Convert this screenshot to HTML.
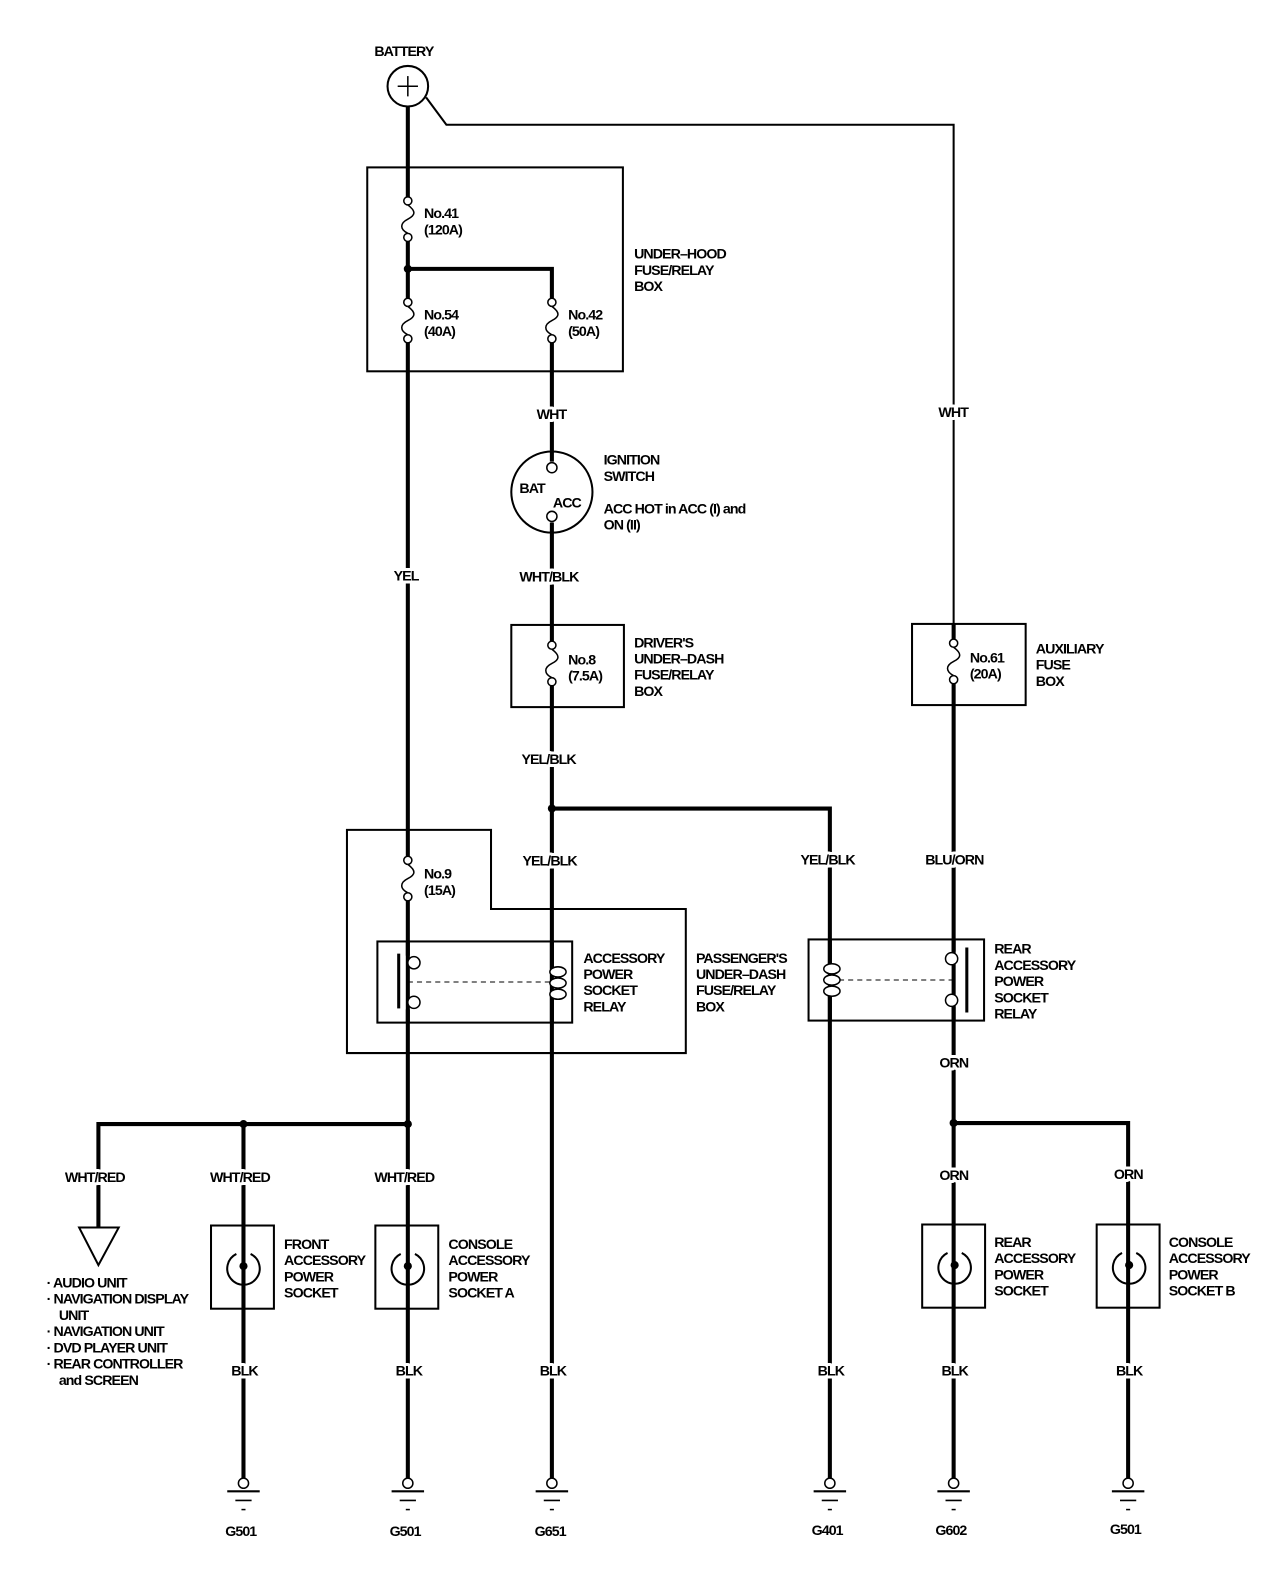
<!DOCTYPE html>
<html><head><meta charset="utf-8"><style>
html,body{margin:0;padding:0;background:#fff;width:1280px;height:1590px;overflow:hidden}
svg{display:block;position:absolute;left:0;top:0}
text{font-family:"Liberation Sans",sans-serif;font-weight:bold;font-size:14px;letter-spacing:-0.9px;fill:#000}
text.lb{stroke:#fff;stroke-width:6px;paint-order:stroke;stroke-linejoin:round}
.w{stroke:#000;stroke-width:4;fill:none}
.t{stroke:#000;stroke-width:2;fill:none}
.f{stroke:#000;stroke-width:1.5;fill:#fff}
</style></head><body>
<svg width="1280" height="1590" viewBox="0 0 1280 1590" xmlns="http://www.w3.org/2000/svg">
<g transform="scale(1.0145)">
<!-- battery -->
<text x="369" y="55">BATTERY</text>
<circle cx="402" cy="85" r="20" class="t"/>
<line x1="392" y1="85" x2="412" y2="85" stroke="#000" stroke-width="1.5"/>
<line x1="402" y1="75" x2="402" y2="95" stroke="#000" stroke-width="1.5"/>
<polyline class="t" points="420,96 440,123 940,123 940,615"/>
<!-- main wires -->
<line class="w" x1="402" y1="105" x2="402" y2="1108"/>
<polyline class="w" points="402,265 544,265 544,455"/>
<line class="w" x1="544" y1="515" x2="544" y2="1462"/>
<polyline class="w" points="544,797 818,797 818,1462"/>
<line class="w" x1="940" y1="615" x2="940" y2="1462"/>
<polyline class="w" points="940,1107 1112,1107 1112,1462"/>
<polyline class="w" points="402,1108 97,1108 97,1210"/>
<line class="w" x1="240" y1="1108" x2="240" y2="1462"/>
<line class="w" x1="402" y1="1108" x2="402" y2="1462"/>
<circle cx="402" cy="265" r="4"/><circle cx="544" cy="797" r="4"/><circle cx="402" cy="1108" r="4"/><circle cx="240" cy="1108" r="4"/><circle cx="940" cy="1107" r="4"/>
<!-- under hood box -->
<rect x="362" y="165" width="252" height="201" class="t"/>
<text x="625" y="255">UNDER–HOOD</text><text x="625" y="271">FUSE/RELAY</text><text x="625" y="287">BOX</text>
<!-- fuses -->
<g id="fz">
<rect x="396" y="200" width="12" height="34" fill="#fff"/>
<circle cx="402" cy="198" r="4" class="f"/><circle cx="402" cy="234" r="4" class="f"/>
<path d="M402 202 C410 208,410 212,402 216 C394 220,394 226,402 230" class="f" fill="none"/>
</g>
<use href="#fz" y="100"/>
<use href="#fz" x="142" y="100"/>
<use href="#fz" x="142" y="438"/>
<use href="#fz" y="650"/>
<use href="#fz" x="538" y="436"/>
<text x="418" y="215">No.41</text><text x="418" y="231">(120A)</text>
<text x="418" y="315">No.54</text><text x="418" y="331">(40A)</text>
<text x="560" y="315">No.42</text><text x="560" y="331">(50A)</text>
<text class="lb" x="529" y="413">WHT</text>
<text class="lb" x="925" y="411">WHT</text>
<!-- ignition -->
<circle cx="544" cy="485" r="40" class="t"/>
<circle cx="544" cy="461" r="5" class="f"/><circle cx="544" cy="509" r="5" class="f"/>
<text x="512" y="486">BAT</text><text x="545" y="500">ACC</text>
<text x="595" y="458">IGNITION</text><text x="595" y="474">SWITCH</text>
<text x="595" y="506">ACC HOT in ACC (I) and</text><text x="595" y="522">ON (II)</text>
<text class="lb" x="388" y="572">YEL</text>
<text class="lb" x="512" y="573">WHT/BLK</text>
<!-- driver's box -->
<rect x="504" y="616" width="111" height="81" class="t"/>
<text x="560" y="655">No.8</text><text x="560" y="671">(7.5A)</text>
<text x="625" y="638">DRIVER'S</text><text x="625" y="654">UNDER–DASH</text><text x="625" y="670">FUSE/RELAY</text><text x="625" y="686">BOX</text>
<!-- aux -->
<rect x="899" y="615" width="112" height="80" class="t"/>
<text x="956" y="653">No.61</text><text x="956" y="669">(20A)</text>
<text x="1021" y="644">AUXILIARY</text><text x="1021" y="660">FUSE</text><text x="1021" y="676">BOX</text>
<text class="lb" x="514" y="753">YEL/BLK</text>
<!-- passenger box -->
<polygon points="342,818 484,818 484,896 676,896 676,1038 342,1038" class="t"/>
<text x="418" y="866">No.9</text><text x="418" y="882">(15A)</text>
<text class="lb" x="515" y="853">YEL/BLK</text>
<text class="lb" x="789" y="852">YEL/BLK</text>
<text class="lb" x="912" y="852">BLU/ORN</text>
<!-- relay 1 -->
<rect x="372" y="928" width="192" height="80" class="t" fill="#fff"/>
<line class="w" x1="402" y1="928" x2="402" y2="942"/><line class="w" x1="402" y1="995" x2="402" y2="1008"/>
<line class="w" x1="544" y1="928" x2="544" y2="955"/><line class="w" x1="544" y1="982" x2="544" y2="1008"/>
<line x1="393" y1="940" x2="393" y2="994" stroke="#000" stroke-width="3"/>
<circle cx="408" cy="949" r="6" class="f"/><circle cx="408" cy="988" r="6" class="f"/>
<line x1="402" y1="968" x2="544" y2="968" stroke="#000" stroke-width="1" stroke-dasharray="5,4"/>
<ellipse cx="550" cy="958" rx="8" ry="5" class="f"/><ellipse cx="550" cy="969" rx="8" ry="5" class="f"/><ellipse cx="550" cy="980" rx="8" ry="5" class="f"/>
<text x="575" y="949">ACCESSORY</text><text x="575" y="965">POWER</text><text x="575" y="981">SOCKET</text><text x="575" y="997">RELAY</text>
<text x="686" y="949">PASSENGER'S</text><text x="686" y="965">UNDER–DASH</text><text x="686" y="981">FUSE/RELAY</text><text x="686" y="997">BOX</text>
<!-- relay 2 -->
<rect x="797" y="926" width="173" height="80" class="t" fill="#fff"/>
<line class="w" x1="818" y1="926" x2="818" y2="952"/><line class="w" x1="818" y1="980" x2="818" y2="1006"/>
<line class="w" x1="940" y1="926" x2="940" y2="938"/><line class="w" x1="940" y1="992" x2="940" y2="1006"/>
<line x1="953" y1="934" x2="953" y2="998" stroke="#000" stroke-width="3"/>
<circle cx="938" cy="945" r="6" class="f"/><circle cx="938" cy="986" r="6" class="f"/>
<line x1="818" y1="966" x2="940" y2="966" stroke="#000" stroke-width="1" stroke-dasharray="5,4"/>
<ellipse cx="820" cy="955" rx="8" ry="5" class="f"/><ellipse cx="820" cy="966" rx="8" ry="5" class="f"/><ellipse cx="820" cy="977" rx="8" ry="5" class="f"/>
<text x="980" y="940">REAR</text><text x="980" y="956">ACCESSORY</text><text x="980" y="972">POWER</text><text x="980" y="988">SOCKET</text><text x="980" y="1004">RELAY</text>
<text class="lb" x="926" y="1052">ORN</text>
<!-- bottom labels -->
<text class="lb" x="64" y="1165">WHT/RED</text><text class="lb" x="207" y="1165">WHT/RED</text><text class="lb" x="369" y="1165">WHT/RED</text>
<text class="lb" x="926" y="1163">ORN</text><text class="lb" x="1098" y="1162">ORN</text>
<polygon points="78,1210 117,1210 97,1247" class="t" fill="#fff"/>
<g>
<text x="46" y="1269">· AUDIO UNIT</text>
<text x="46" y="1285">· NAVIGATION DISPLAY</text>
<text x="58" y="1301">UNIT</text>
<text x="46" y="1317">· NAVIGATION UNIT</text>
<text x="46" y="1333">· DVD PLAYER UNIT</text>
<text x="46" y="1349">· REAR CONTROLLER</text>
<text x="58" y="1365">and SCREEN</text>
</g>
<!-- sockets -->
<g id="sk">
<rect x="208" y="1208" width="62" height="82" class="t"/>
<path d="M233 1236 A16 16 0 1 0 247 1236" class="t" stroke-width="2.5"/>
<circle cx="240" cy="1248" r="4"/>
</g>
<use href="#sk" x="162"/>
<use href="#sk" x="701" y="-1"/>
<use href="#sk" x="873" y="-1"/>
<text x="280" y="1231">FRONT</text><text x="280" y="1247">ACCESSORY</text><text x="280" y="1263">POWER</text><text x="280" y="1279">SOCKET</text>
<text x="442" y="1231">CONSOLE</text><text x="442" y="1247">ACCESSORY</text><text x="442" y="1263">POWER</text><text x="442" y="1279">SOCKET A</text>
<text x="980" y="1229">REAR</text><text x="980" y="1245">ACCESSORY</text><text x="980" y="1261">POWER</text><text x="980" y="1277">SOCKET</text>
<text x="1152" y="1229">CONSOLE</text><text x="1152" y="1245">ACCESSORY</text><text x="1152" y="1261">POWER</text><text x="1152" y="1277">SOCKET B</text>
<!-- BLK and grounds -->
<g id="gd">
<text class="lb" x="228" y="1356">BLK</text>
<circle cx="240" cy="1462" r="5" class="f"/>
<line x1="224" y1="1470" x2="256" y2="1470" stroke="#000" stroke-width="2"/>
<line x1="232" y1="1479" x2="248" y2="1479" stroke="#000" stroke-width="1.5"/>
<line x1="238" y1="1488" x2="242" y2="1488" stroke="#000" stroke-width="1.5"/>
</g>
<use href="#gd" x="162"/><use href="#gd" x="304"/><use href="#gd" x="578"/><use href="#gd" x="700"/><use href="#gd" x="872"/>
<text x="222" y="1514">G501</text><text x="384" y="1514">G501</text><text x="527" y="1514">G651</text><text x="800" y="1513">G401</text><text x="922" y="1513">G602</text><text x="1094" y="1512">G501</text>
</g>
</svg>
</body></html>
